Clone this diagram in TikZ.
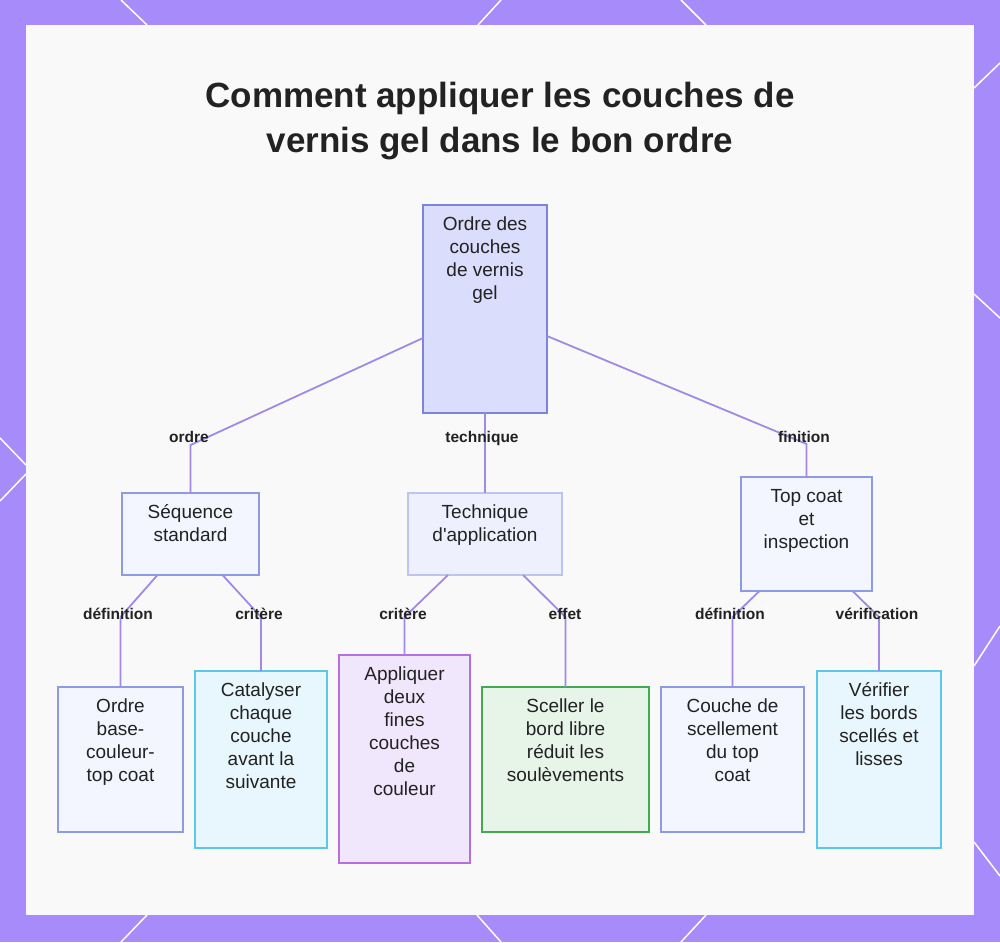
\documentclass[tikz,border=0pt]{standalone}
\usepackage{fontspec}
\setmainfont{Liberation Sans}
\usetikzlibrary{calc}
\definecolor{bgpurple}{HTML}{A78BFA}
\definecolor{panel}{HTML}{FAF9F9}
\definecolor{conn}{HTML}{A08AE6}
\definecolor{txt}{HTML}{222222}
\definecolor{rootfill}{HTML}{DADDFB}
\definecolor{rootdraw}{HTML}{7B85DB}
\definecolor{bluefill}{HTML}{F4F6FF}
\definecolor{bluedraw}{HTML}{8C9BE3}
\definecolor{techfill}{HTML}{EEF0FD}
\definecolor{techdraw}{HTML}{BCC4F2}
\definecolor{cyanfill}{HTML}{E8F6FD}
\definecolor{cyandraw}{HTML}{5BC8E6}
\definecolor{purpfill}{HTML}{F1E7FC}
\definecolor{purpdraw}{HTML}{B56FE2}
\definecolor{greenfill}{HTML}{E7F5E9}
\definecolor{greendraw}{HTML}{45A952}
\tikzset{
  boxshape/.style={rectangle, inner sep=0pt, outer sep=0pt, line width=1.6pt},
  boxtext/.style={anchor=north, inner sep=0pt, align=center, text=txt,
    font=\fontsize{19}{23}\selectfont},
  elabel/.style={anchor=base, inner sep=0pt, text=txt,
    font=\fontsize{15.5}{18}\selectfont\bfseries},
  conn/.style={draw=conn, line width=1.8pt},
  deco/.style={draw=white, line width=1.5pt},
  titletext/.style={align=center, text=txt, inner sep=0pt, anchor=base,
    font=\fontsize{35}{45}\selectfont\bfseries}
}
\newcommand{\mkbox}[8]{%
  \node[boxshape, fill=#6, draw=#7, minimum width={#4-#2}, minimum height={#5-#3}] (#1) at ({(#2+#4)/2},{(#3+#5)/2}) {};
  \node[boxtext] (#1t) at ([yshift=-10pt]#1.north) {\rule{0pt}{15pt}#8};
}
\begin{document}
\begin{tikzpicture}[x=1pt,y=-1pt]
\useasboundingbox (0,0) rectangle (1000,942);
\fill[bgpurple] (0,0) rectangle (1000,942);
% decorative lines on the border
\draw[deco] (121,0) -- (147,25);
\draw[deco] (501,0) -- (478,25);
\draw[deco] (681,0) -- (706,25);
\draw[deco] (147,915) -- (121,942);
\draw[deco] (477,915) -- (501,942);
\draw[deco] (706,915) -- (681,942);
\draw[deco] (0,438) -- (26,465);
\draw[deco] (26,474) -- (0,501);
\draw[deco] (1000,63) -- (974,88);
\draw[deco] (974,294) -- (1000,318);
\draw[deco] (974,666) -- (1000,626);
\draw[deco] (974,842) -- (1000,876);
% panel
\fill[panel] (26,25) rectangle (974,915);
% title
\node[titletext] (title) at (500,152) {Comment appliquer les couches de\\vernis gel dans le bon ordre};
% boxes
\mkbox{root}{423}{205}{547}{413}{rootfill}{rootdraw}{Ordre des\\couches\\de vernis\\gel}
\mkbox{seq}{122}{493}{259}{575}{bluefill}{bluedraw}{Séquence\\standard}
\mkbox{tech}{408}{493}{562}{575}{techfill}{techdraw}{Technique\\d\textquotesingle application}
\mkbox{top}{741}{477}{872}{591}{bluefill}{bluedraw}{Top coat\\et\\inspection}
\mkbox{ordre}{58}{687}{183}{832}{bluefill}{bluedraw}{Ordre\\base-\\couleur-\\top coat}
\mkbox{cat}{195}{671}{327}{848}{cyanfill}{cyandraw}{Catalyser\\chaque\\couche\\avant la\\suivante}
\mkbox{appl}{339}{655}{470}{863}{purpfill}{purpdraw}{Appliquer\\deux\\fines\\couches\\de\\couleur}
\mkbox{scel}{482}{687}{649}{832}{greenfill}{greendraw}{Sceller le\\bord libre\\réduit les\\soulèvements}
\mkbox{couche}{661}{687}{804}{832}{bluefill}{bluedraw}{Couche de\\scellement\\du top\\coat}
\mkbox{verif}{817}{671}{941}{848}{cyanfill}{cyandraw}{Vérifier\\les bords\\scellés et\\lisses}
% bend coordinates
\coordinate (b1) at (seq.north |- 0,445);
\coordinate (b2) at (top.north |- 0,444);
\coordinate (b3) at (ordre.north |- 0,617);
\coordinate (b4) at (cat.north |- 0,617);
\coordinate (b5) at (appl.north |- 0,617);
\coordinate (b6) at (scel.north |- 0,617);
\coordinate (b7) at (couche.north |- 0,617);
\coordinate (b8) at (verif.north |- 0,617);
% connectors
\draw[conn] ([yshift=-29pt]root.west) -- (b1) -- (seq.north);
\draw[conn] (root.south) -- (tech.north);
\draw[conn] ([yshift=-27pt]root.east) -- (b2) -- (top.north);
\draw[conn] ([xshift=-33pt]seq.south) -- (b3) -- (ordre.north);
\draw[conn] ([xshift=32pt]seq.south) -- (b4) -- (cat.north);
\draw[conn] ([xshift=-37pt]tech.south) -- (b5) -- (appl.north);
\draw[conn] ([xshift=38pt]tech.south) -- (b6) -- (scel.north);
\draw[conn] ([xshift=-47pt]top.south) -- (b7) -- (couche.north);
\draw[conn] ([xshift=46pt]top.south) -- (b8) -- (verif.north);
% edge labels
\node[elabel] (l1) at (189,442) {ordre};
\node[elabel] (l2) at (482,442) {technique};
\node[elabel] (l3) at (804,442) {finition};
\node[elabel] (l4) at (118,619) {définition};
\node[elabel] (l5) at (259,619) {critère};
\node[elabel] (l6) at (403,619) {critère};
\node[elabel] (l7) at (565,619) {effet};
\node[elabel] (l8) at (730,619) {définition};
\node[elabel] (l9) at (877,619) {vérification};
\end{tikzpicture}
\end{document}
